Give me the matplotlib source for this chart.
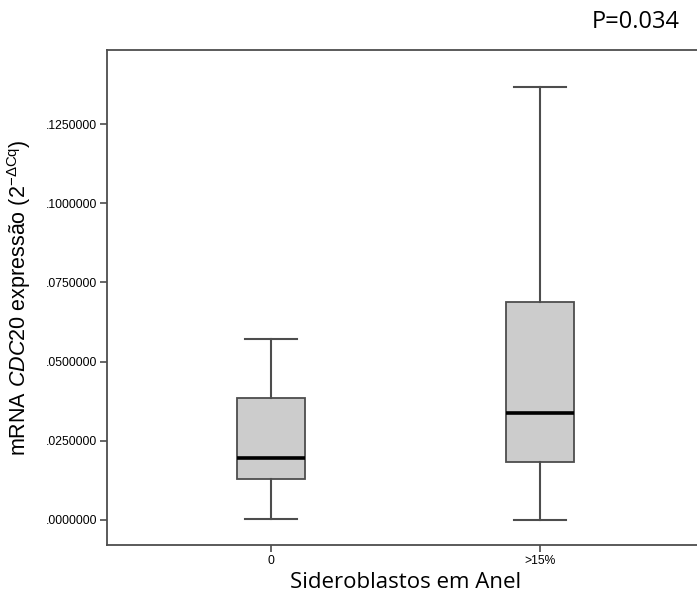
import matplotlib
matplotlib.use('Agg')
import matplotlib.pyplot as plt

plt.rcParams['font.family'] = ['Liberation Sans', 'DejaVu Sans']
plt.rcParams['mathtext.fontset'] = 'custom'
plt.rcParams['mathtext.rm'] = 'Liberation Sans'
plt.rcParams['mathtext.it'] = 'Liberation Sans:italic'

# box plot summary values
groups = ['0', '>15%']
whislo = [0.0002, 0.0000]
q1 = [0.0129, 0.0183]
med = [0.0195, 0.0339]
q3 = [0.0384, 0.0687]
whishi = [0.0572, 0.1368]
yticks = [0.0, 0.025, 0.05, 0.075, 0.1, 0.125]
ytick_labels = ['.0000000', '.0250000', '.0500000', '.0750000', '.1000000', '.1250000']

stats = []
for i in range(len(groups)):
    stats.append(dict(label=groups[i], whislo=whislo[i], q1=q1[i], med=med[i],
                      q3=q3[i], whishi=whishi[i], fliers=[]))

fig = plt.figure(figsize=(6.97, 5.98), dpi=100)
# axes runs a little past the right edge, like the cropped original
ax = fig.add_axes([107 / 697, 1 - 545 / 598, (704 - 107) / 697, (545 - 50) / 598])

edge = '#4d4d4d'
ax.bxp(stats, positions=[1, 2], widths=0.253, patch_artist=True,
       boxprops=dict(facecolor='#cccccc', edgecolor=edge, linewidth=1.3),
       whiskerprops=dict(color=edge, linewidth=1.5),
       capprops=dict(color=edge, linewidth=1.5),
       medianprops=dict(color='black', linewidth=2.6),
       capwidths=0.19)

ax.set_xlim(0.39, 2.61)
ax.set_ylim(-0.0079, 0.1484)
ax.set_yticks(yticks)
ax.set_yticklabels(ytick_labels, fontsize=8.7)
ax.set_xticks([1, 2])
ax.set_xticklabels(groups, fontsize=8.7)
ax.tick_params(direction='out', length=5, width=1.2, color=edge, pad=2)

for sp in ax.spines.values():
    sp.set_color(edge)
    sp.set_linewidth(1.3)

ax.set_ylabel(r'mRNA $\mathit{CDC20}$ expressão (2$^{\mathrm{-\Delta Cq}}$)', fontsize=15.5, labelpad=9)
ax.set_xlabel('Sideroblastos em Anel', fontsize=16, family='Open Sans', labelpad=4)

fig.text(680 / 697, 1 - 22 / 598, 'P=0.034', fontsize=17, family='Open Sans',
         ha='right', va='center')

fig.savefig('out.png', dpi=100)
